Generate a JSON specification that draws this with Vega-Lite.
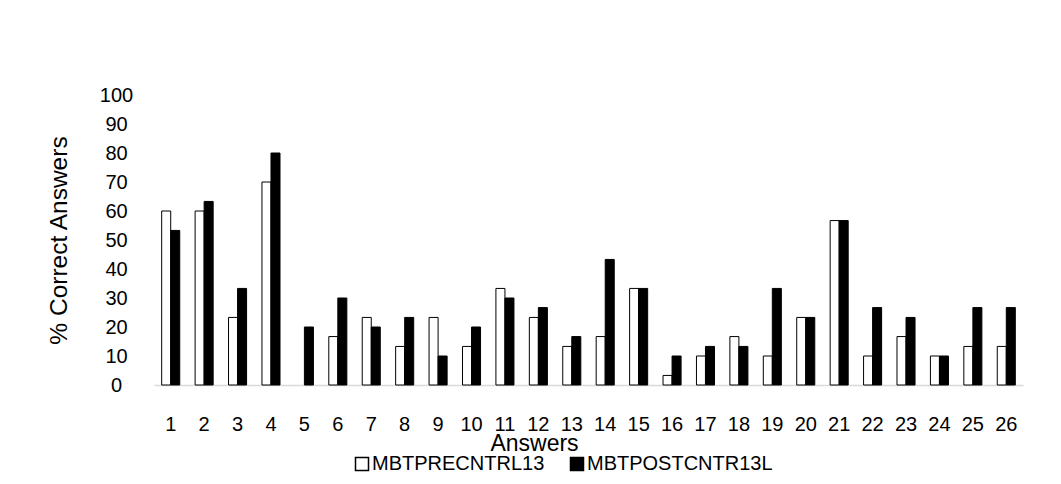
{
  "$schema": "https://vega.github.io/schema/vega-lite/v6.json",
  "width": 869,
  "height": 290,
  "autosize": {"type": "none"},
  "padding": {"left": 154, "top": 95, "right": 38, "bottom": 99},
  "background": "white",
  "config": {
    "view": {"stroke": null},
    "font": "Liberation Sans, Arial, sans-serif"
  },
  "data": {
    "values": [
      {"answer": 1, "group": "MBTPRECNTRL13", "pct": 60}, {"answer": 1, "group": "MBTPOSTCNTR13L", "pct": 53.3},
      {"answer": 2, "group": "MBTPRECNTRL13", "pct": 60}, {"answer": 2, "group": "MBTPOSTCNTR13L", "pct": 63.3},
      {"answer": 3, "group": "MBTPRECNTRL13", "pct": 23.3}, {"answer": 3, "group": "MBTPOSTCNTR13L", "pct": 33.3},
      {"answer": 4, "group": "MBTPRECNTRL13", "pct": 70}, {"answer": 4, "group": "MBTPOSTCNTR13L", "pct": 80},
      {"answer": 5, "group": "MBTPRECNTRL13", "pct": 0}, {"answer": 5, "group": "MBTPOSTCNTR13L", "pct": 20},
      {"answer": 6, "group": "MBTPRECNTRL13", "pct": 16.7}, {"answer": 6, "group": "MBTPOSTCNTR13L", "pct": 30},
      {"answer": 7, "group": "MBTPRECNTRL13", "pct": 23.3}, {"answer": 7, "group": "MBTPOSTCNTR13L", "pct": 20},
      {"answer": 8, "group": "MBTPRECNTRL13", "pct": 13.3}, {"answer": 8, "group": "MBTPOSTCNTR13L", "pct": 23.3},
      {"answer": 9, "group": "MBTPRECNTRL13", "pct": 23.3}, {"answer": 9, "group": "MBTPOSTCNTR13L", "pct": 10},
      {"answer": 10, "group": "MBTPRECNTRL13", "pct": 13.3}, {"answer": 10, "group": "MBTPOSTCNTR13L", "pct": 20},
      {"answer": 11, "group": "MBTPRECNTRL13", "pct": 33.3}, {"answer": 11, "group": "MBTPOSTCNTR13L", "pct": 30},
      {"answer": 12, "group": "MBTPRECNTRL13", "pct": 23.3}, {"answer": 12, "group": "MBTPOSTCNTR13L", "pct": 26.7},
      {"answer": 13, "group": "MBTPRECNTRL13", "pct": 13.3}, {"answer": 13, "group": "MBTPOSTCNTR13L", "pct": 16.7},
      {"answer": 14, "group": "MBTPRECNTRL13", "pct": 16.7}, {"answer": 14, "group": "MBTPOSTCNTR13L", "pct": 43.3},
      {"answer": 15, "group": "MBTPRECNTRL13", "pct": 33.3}, {"answer": 15, "group": "MBTPOSTCNTR13L", "pct": 33.3},
      {"answer": 16, "group": "MBTPRECNTRL13", "pct": 3.3}, {"answer": 16, "group": "MBTPOSTCNTR13L", "pct": 10},
      {"answer": 17, "group": "MBTPRECNTRL13", "pct": 10}, {"answer": 17, "group": "MBTPOSTCNTR13L", "pct": 13.3},
      {"answer": 18, "group": "MBTPRECNTRL13", "pct": 16.7}, {"answer": 18, "group": "MBTPOSTCNTR13L", "pct": 13.3},
      {"answer": 19, "group": "MBTPRECNTRL13", "pct": 10}, {"answer": 19, "group": "MBTPOSTCNTR13L", "pct": 33.3},
      {"answer": 20, "group": "MBTPRECNTRL13", "pct": 23.3}, {"answer": 20, "group": "MBTPOSTCNTR13L", "pct": 23.3},
      {"answer": 21, "group": "MBTPRECNTRL13", "pct": 56.7}, {"answer": 21, "group": "MBTPOSTCNTR13L", "pct": 56.7},
      {"answer": 22, "group": "MBTPRECNTRL13", "pct": 10}, {"answer": 22, "group": "MBTPOSTCNTR13L", "pct": 26.7},
      {"answer": 23, "group": "MBTPRECNTRL13", "pct": 16.7}, {"answer": 23, "group": "MBTPOSTCNTR13L", "pct": 23.3},
      {"answer": 24, "group": "MBTPRECNTRL13", "pct": 10}, {"answer": 24, "group": "MBTPOSTCNTR13L", "pct": 10},
      {"answer": 25, "group": "MBTPRECNTRL13", "pct": 13.3}, {"answer": 25, "group": "MBTPOSTCNTR13L", "pct": 26.7},
      {"answer": 26, "group": "MBTPRECNTRL13", "pct": 13.3}, {"answer": 26, "group": "MBTPOSTCNTR13L", "pct": 26.7}
    ]
  },
  "mark": {"type": "bar", "strokeWidth": 1},
  "encoding": {
    "x": {
      "field": "answer",
      "type": "ordinal",
      "scale": {"paddingInner": 0.46, "paddingOuter": 0.23},
      "axis": {
        "labelAngle": 0,
        "domainColor": "#d9d9d9",
        "domainWidth": 1.5,
        "ticks": false,
        "tickSize": 0,
        "labelPadding": 29,
        "labelFontSize": 20,
        "labelColor": "black",
        "title": "Answers",
        "titleFontSize": 23,
        "titleFontWeight": "normal",
        "titleColor": "black",
        "titleX": 380,
        "titleY": 65,
        "titleBaseline": "alphabetic",
        "titleAlign": "center"
      }
    },
    "xOffset": {
      "field": "group",
      "type": "nominal",
      "sort": ["MBTPRECNTRL13", "MBTPOSTCNTR13L"]
    },
    "y": {
      "field": "pct",
      "type": "quantitative",
      "scale": {"domain": [0, 100], "nice": false},
      "axis": {
        "values": [0, 10, 20, 30, 40, 50, 60, 70, 80, 90, 100],
        "grid": false,
        "domain": false,
        "ticks": false,
        "tickSize": 0,
        "labelPadding": 38,
        "labelAlign": "center",
        "labelFontSize": 20,
        "labelColor": "black",
        "title": "%  Correct Answers",
        "titleFontSize": 24.5,
        "titleFontWeight": "normal",
        "titleColor": "black",
        "titleX": -88,
        "titleY": 145,
        "titleAngle": -90,
        "titleBaseline": "alphabetic",
        "titleAlign": "center"
      }
    },
    "stroke": {
      "condition": {"test": "datum.pct == 0", "value": null},
      "value": "black"
    },
    "fill": {
      "field": "group",
      "type": "nominal",
      "sort": ["MBTPRECNTRL13", "MBTPOSTCNTR13L"],
      "scale": {"domain": ["MBTPRECNTRL13", "MBTPOSTCNTR13L"], "range": ["white", "black"]},
      "legend": {
        "title": null,
        "orient": "none",
        "direction": "horizontal",
        "legendX": 198,
        "legendY": 359,
        "padding": 0,
        "symbolType": "square",
        "symbolSize": 169,
        "symbolStrokeColor": "black",
        "symbolStrokeWidth": 1.5,
        "labelFontSize": 20,
        "labelColor": "black",
        "labelOffset": 0,
        "labelLimit": 400,
        "columnPadding": 22
      }
    }
  }
}
